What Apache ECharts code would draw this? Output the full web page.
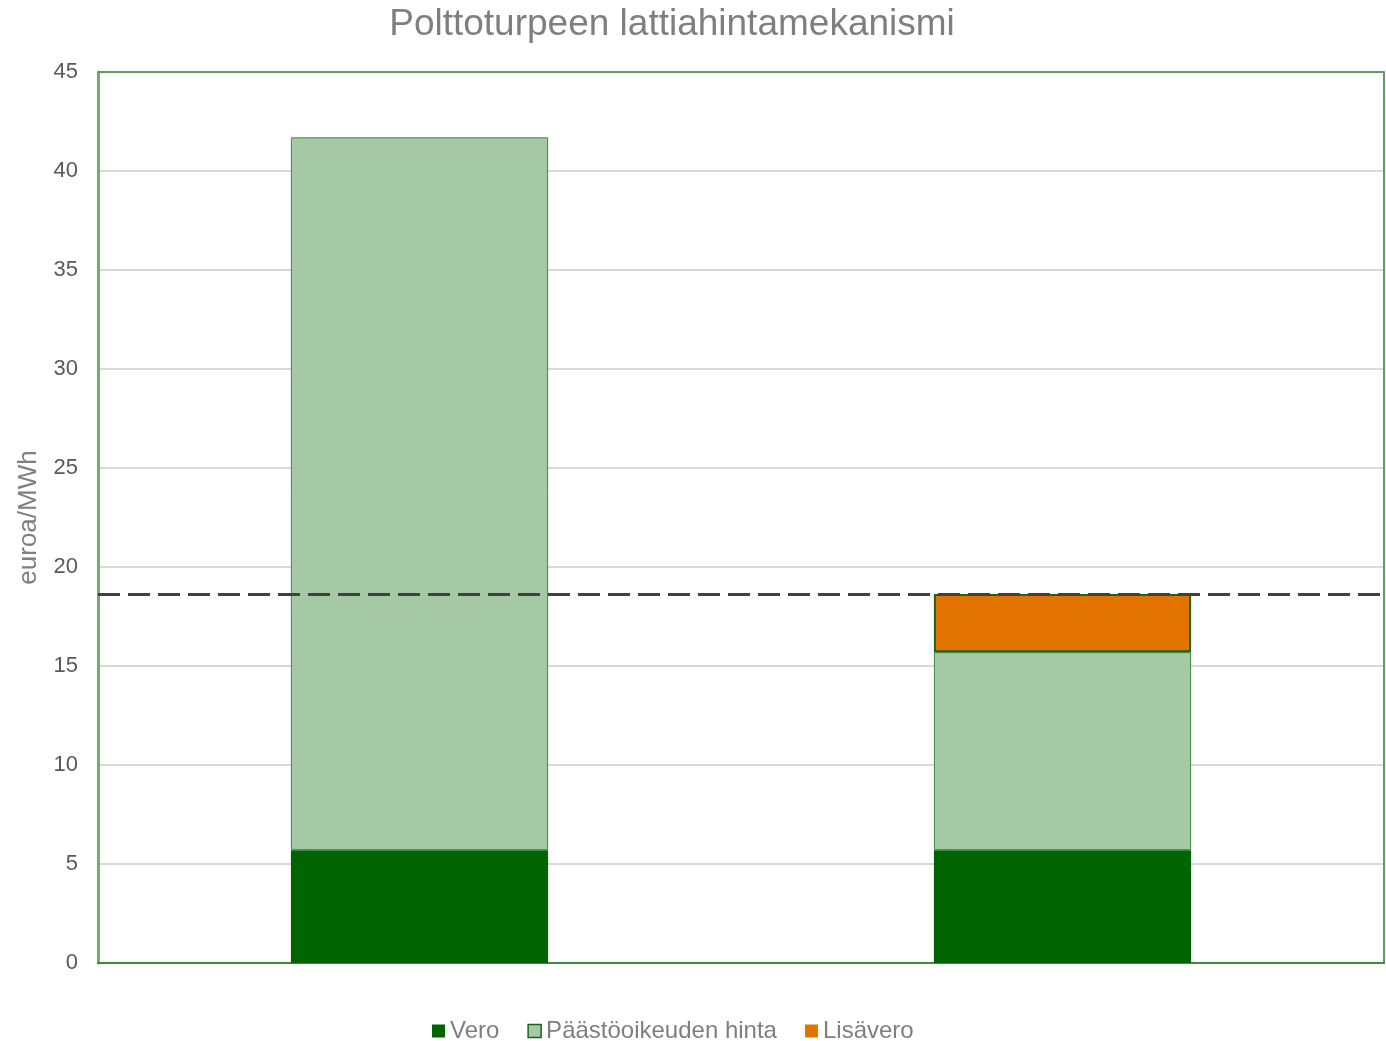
<!DOCTYPE html>
<html>
<head>
<meta charset="utf-8">
<script src="https://cdn.jsdelivr.net/npm/echarts@6/dist/echarts.min.js"></script>
<style>
  html, body { margin: 0; padding: 0; background: #fff; }
  #main { width: 1386px; height: 1041px; }
</style>
</head>
<body>
<div id="main"></div>
<script>
// data
var categories = ['Ilman lisäveroa', 'Lisäverolla'];
var vero = [5.7, 5.7];
var paastooikeus = [36.0, 10.0];
var lisavero = [null, 2.94];
var lattiahinta = 18.64;
var yTicks = { min: 0, max: 45, interval: 5 };

var myChart = echarts.init(document.getElementById('main'));
var font = '"Liberation Sans", Arial, sans-serif';
var frameColor = '#5c9e5c';

var option = {
    animation: false,
    textStyle: { fontFamily: font },
    title: {
        text: 'Polttoturpeen lattiahintamekanismi',
        left: 667,
        textAlign: 'center',
        top: 1,
        textStyle: { color: '#7f7f7f', fontSize: 37, fontWeight: 'normal', fontFamily: font }
    },
    legend: {
        bottom: -7,
        left: 427,
        icon: 'rect',
        itemWidth: 13,
        itemHeight: 13,
        itemGap: 28,
        textStyle: { color: '#7f7f7f', fontSize: 24, fontFamily: font },
        data: [
            { name: 'Vero', itemStyle: { borderWidth: 0 } },
            { name: 'Päästöoikeuden hinta', itemStyle: { borderColor: '#17661a', borderWidth: 1.5 } },
            { name: 'Lisävero', itemStyle: { borderWidth: 0 } }
        ]
    },
    grid: {
        left: 98,
        right: 2,
        top: 72,
        bottom: 78
    },
    xAxis: {
        type: 'category',
        data: categories,
        axisLine: { lineStyle: { color: '#3d8b3d', width: 2 } },
        axisTick: { show: false },
        axisLabel: { show: false }
    },
    yAxis: [
        {
            type: 'value',
            min: yTicks.min,
            max: yTicks.max,
            interval: yTicks.interval,
            name: 'euroa/MWh',
            nameLocation: 'middle',
            nameGap: 56,
            nameTextStyle: { color: '#7f7f7f', fontSize: 26, fontFamily: font },
            axisLine: { show: true, lineStyle: { color: '#6fb06f', width: 3 } },
            axisTick: { show: false },
            axisLabel: { color: '#595959', fontSize: 22, margin: 20, fontFamily: font },
            splitLine: { lineStyle: { color: '#d9d9d9', width: 2 } }
        },
        {
            type: 'value',
            position: 'right',
            min: yTicks.min,
            max: yTicks.max,
            interval: yTicks.interval,
            axisLine: { show: true, lineStyle: { color: frameColor, width: 2 } },
            axisTick: { show: false },
            axisLabel: { show: false },
            splitLine: { show: false }
        }
    ],
    series: [
        {
            name: 'Vero',
            type: 'bar',
            stack: 'a',
            barWidth: '40%',
            data: vero,
            itemStyle: { color: '#006400' },
            // top frame line of the plot area
            markLine: {
                silent: true,
                symbol: 'none',
                label: { show: false },
                lineStyle: { color: frameColor, type: 'solid', width: 2 },
                data: [{ yAxis: yTicks.max }]
            }
        },
        {
            name: 'Päästöoikeuden hinta',
            type: 'bar',
            stack: 'a',
            data: paastooikeus,
            itemStyle: { color: '#a5c9a5', borderColor: '#3d8b3d', borderWidth: 1 }
        },
        {
            name: 'Lisävero',
            type: 'bar',
            stack: 'a',
            data: lisavero,
            itemStyle: { color: '#e37300', borderColor: '#17661a', borderWidth: 2 },
            markLine: {
                silent: true,
                symbol: 'none',
                label: { show: false },
                lineStyle: { color: '#404040', type: [22, 8], width: 3 },
                data: [{ yAxis: lattiahinta }]
            }
        }
    ]
};

myChart.setOption(option);
</script>
</body>
</html>
